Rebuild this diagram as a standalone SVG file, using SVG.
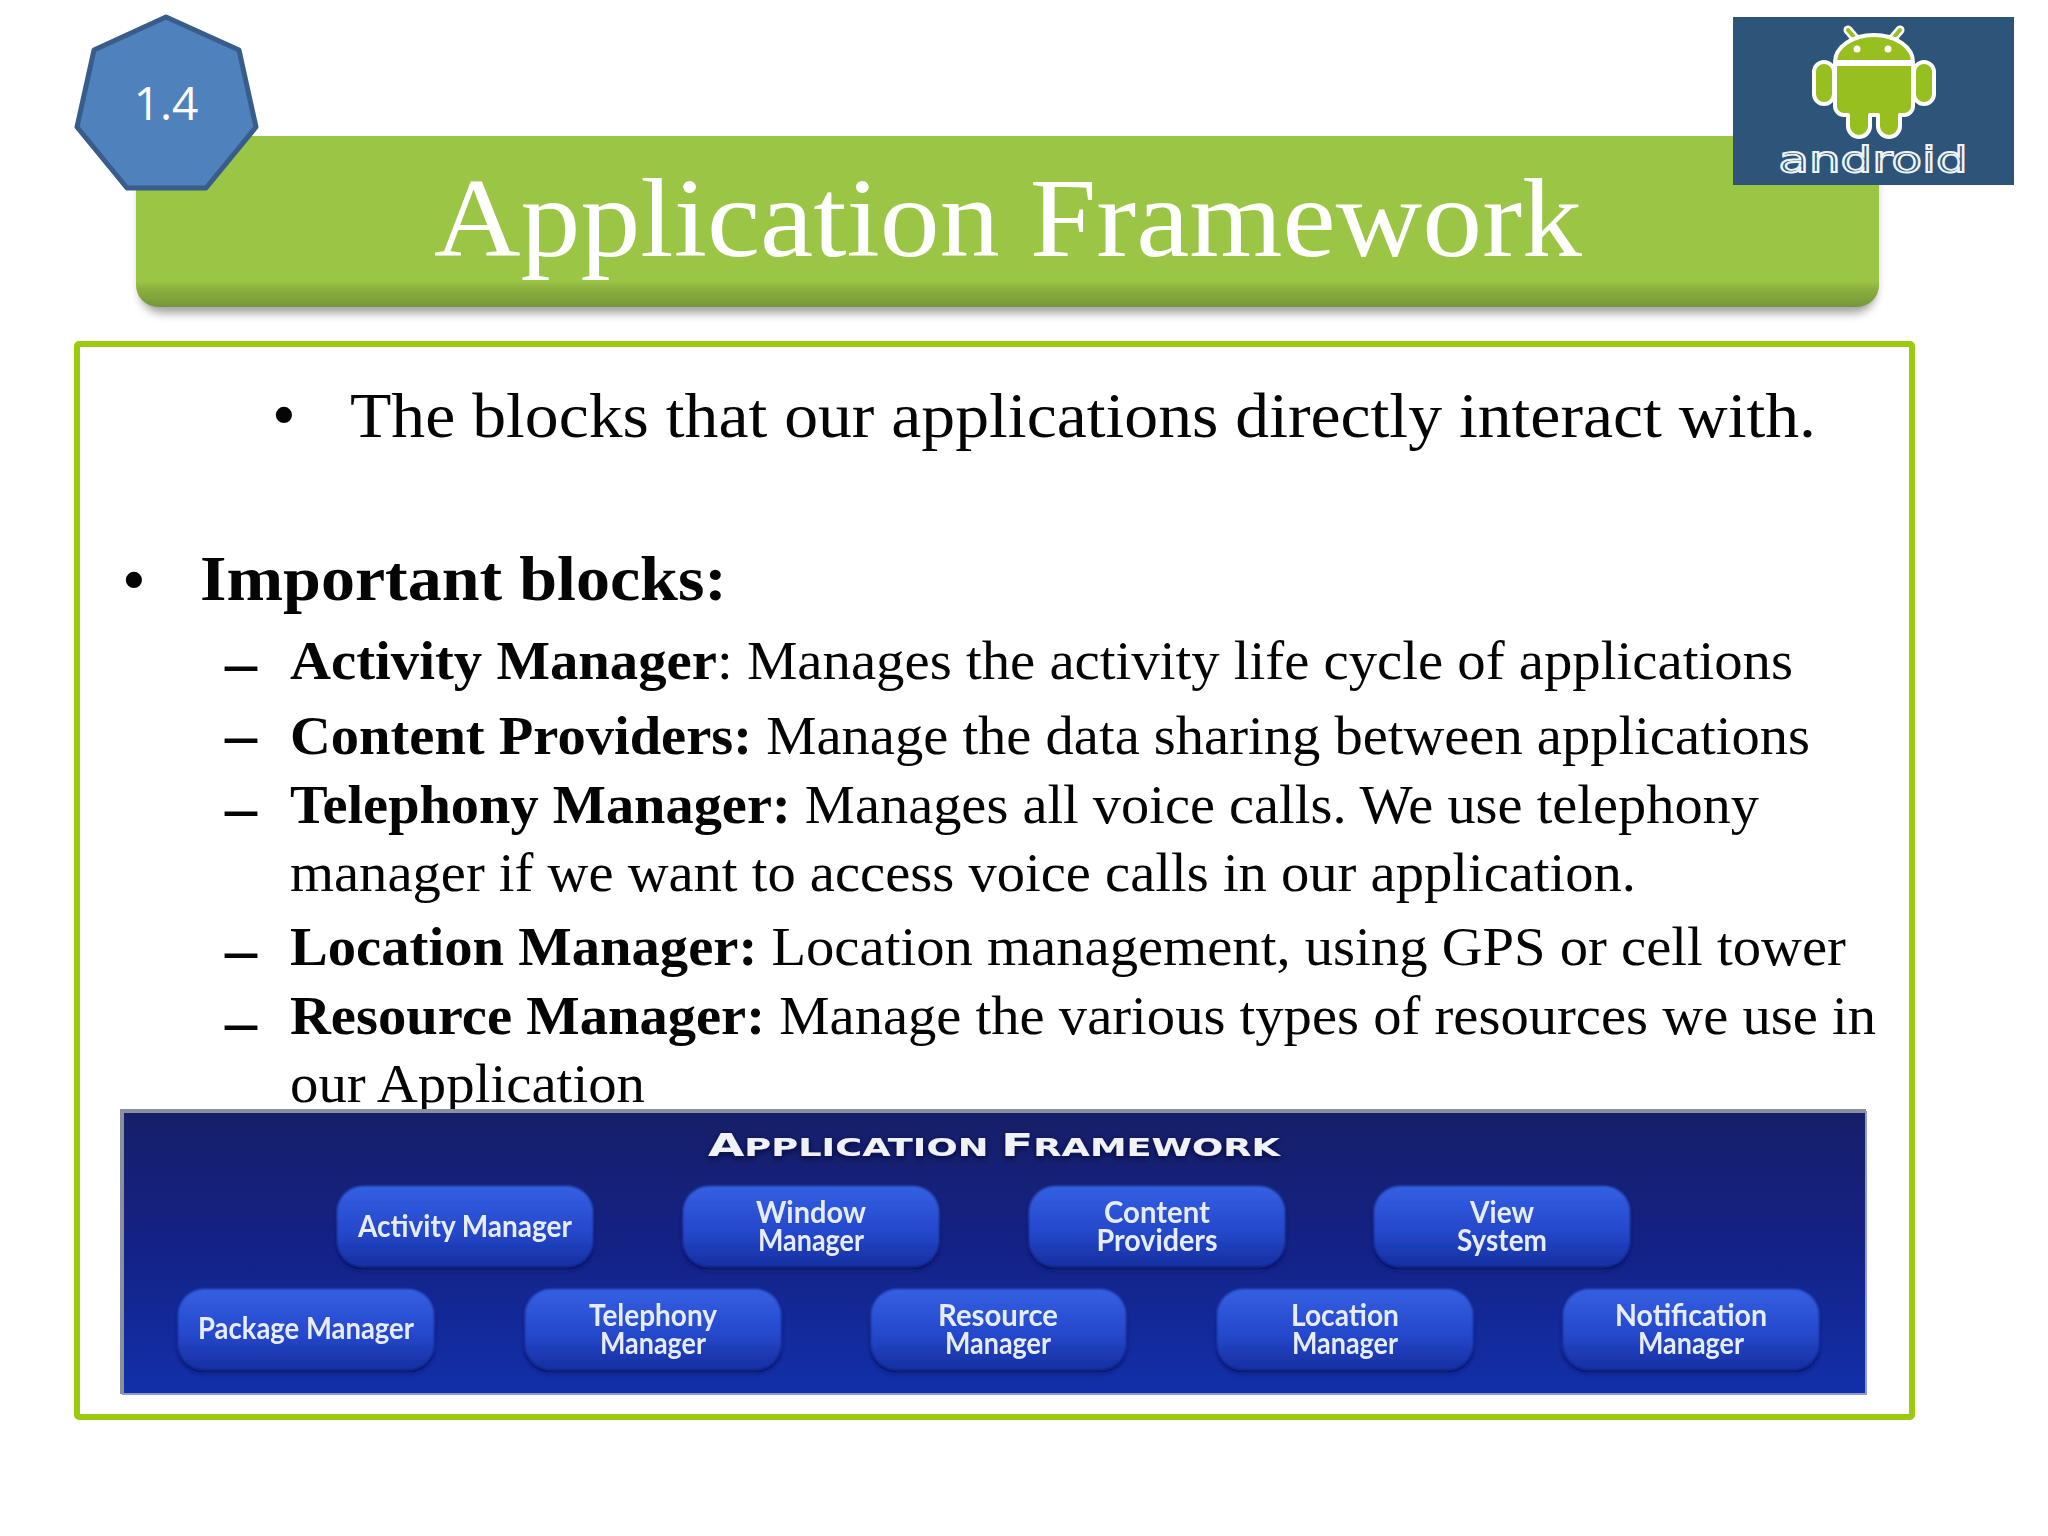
<svg xmlns="http://www.w3.org/2000/svg" width="2048" height="1536" viewBox="0 0 2048 1536">
<style>
.s{font-family:"Liberation Serif","Times New Roman",serif;fill:#050505}
.l{font-size:54.5px}
.b{font-weight:700}
.d{font-size:64px;font-weight:700}
.n{font-family:Lato,"Open Sans",sans-serif;font-size:29.5px;font-weight:700;fill:#e6ecfa;text-anchor:middle;filter:url(#soft)}
.box{fill:url(#nodeFill);filter:url(#boxf)}
</style>
<defs>
<linearGradient id="bar" x1="0" y1="0" x2="0" y2="1"><stop offset="0" stop-color="#9bc645"/><stop offset=".85" stop-color="#9bc645"/><stop offset=".89" stop-color="#8db13f"/><stop offset="1" stop-color="#759738"/></linearGradient>
<linearGradient id="panel" x1="0" y1="0" x2="0" y2="1"><stop offset="0" stop-color="#161f68"/><stop offset=".5" stop-color="#142287"/><stop offset="1" stop-color="#1230aa"/></linearGradient>
<linearGradient id="nodeFill" x1="0" y1="0" x2="0" y2="1"><stop offset="0" stop-color="#3560e2"/><stop offset=".55" stop-color="#2549cc"/><stop offset="1" stop-color="#152fa0"/></linearGradient>
<filter id="soft" x="-5%" y="-15%" width="110%" height="130%"><feGaussianBlur stdDeviation="0.7"/></filter>
<filter id="boxf" x="-5%" y="-10%" width="110%" height="125%"><feGaussianBlur stdDeviation="1"/><feDropShadow dx="0" dy="3" stdDeviation="2" flood-color="#0c1658" flood-opacity=".8"/></filter>
<filter id="halo" x="-5%" y="-30%" width="110%" height="160%"><feGaussianBlur stdDeviation="0.7"/><feDropShadow dx="0" dy="2" stdDeviation="3" flood-color="#060a30" flood-opacity=".9"/></filter>
<filter id="sh" x="-2%" y="-10%" width="104%" height="125%"><feGaussianBlur stdDeviation="5"/></filter>
</defs>
<rect width="2048" height="1536" fill="#fff"/>

<g id="title-bar">
<rect x="140" y="146" width="1736" height="167" rx="22" fill="#777" opacity=".7" filter="url(#sh)"/>
<rect x="136" y="136" width="1743" height="171" rx="22" fill="url(#bar)"/>
<text x="1008" y="256" text-anchor="middle" textLength="1148" lengthAdjust="spacingAndGlyphs" font-family="'Liberation Serif',serif" font-size="112" fill="#fff">Application Framework</text>
</g>

<g id="badge">
<polygon points="166,17 239,50 256,127 206,188 127,188 77,127 94,50" fill="#4f81bd" stroke="#385d8a" stroke-width="5" stroke-linejoin="round"/>
<text x="166" y="120" text-anchor="middle" font-family="'Open Sans','Noto Sans',sans-serif" font-size="46" fill="#fff">1.4</text>
</g>

<g id="android-logo">
<rect x="1733" y="17" width="281" height="168" fill="#2d5479"/>
<path d="M1848 30l12 14M1900 30l-12 14" stroke="#fff" stroke-width="9" stroke-linecap="round"/>
<path d="M1848 30l12 14M1900 30l-12 14" stroke="#97bf1f" stroke-width="4" stroke-linecap="round"/>
<g stroke="#fff" stroke-width="4" fill="#97bf1f" stroke-linejoin="round">
<path d="M1835 62a39 27 0 0 1 78 0z"/>
<path d="M1835 64h78v42a9 9 0 0 1-9 9h-4v11a11 11 0 0 1-22 0v-11h-8v11a11 11 0 0 1-22 0v-11h-4a9 9 0 0 1-9-9z"/>
<rect x="1814" y="62" width="20" height="42" rx="10"/>
<rect x="1914" y="62" width="20" height="42" rx="10"/>
</g>
<circle cx="1857" cy="49" r="3.5" fill="#fff"/><circle cx="1888" cy="49" r="3.5" fill="#fff"/>
<text x="1873" y="172" text-anchor="middle" textLength="189" lengthAdjust="spacingAndGlyphs" font-family="'DejaVu Sans',sans-serif" font-size="36" fill="none" stroke="#eef3f5" stroke-width="1.8">android</text>
</g>

<g id="content-frame"><rect x="77" y="344" width="1835" height="1073" rx="2" fill="#fff" stroke="#9bcb0c" stroke-width="6"/></g>

<g id="content-text">
<text class="s" x="272" y="437" font-size="68">•</text>
<text class="s" x="350" y="437" font-size="64" textLength="1466" lengthAdjust="spacingAndGlyphs">The blocks that our applications directly interact with.</text>
<text class="s" x="122" y="602" font-size="68">•</text>
<text class="s b" x="200" y="600" font-size="64" textLength="527" lengthAdjust="spacingAndGlyphs">Important blocks:</text>
<text class="s d" x="225" y="684">–</text>
<text class="s l" x="290" y="679" textLength="1503" lengthAdjust="spacingAndGlyphs"><tspan class="b">Activity Manager</tspan>: Manages the activity life cycle of applications</text>
<text class="s d" x="225" y="756">–</text>
<text class="s l" x="290" y="754" textLength="1520" lengthAdjust="spacingAndGlyphs"><tspan class="b">Content Providers:</tspan> Manage the data sharing between applications</text>
<text class="s d" x="225" y="829">–</text>
<text class="s l" x="290" y="823" textLength="1469" lengthAdjust="spacingAndGlyphs"><tspan class="b">Telephony Manager:</tspan> Manages all voice calls. We use telephony</text>
<text class="s l" x="290" y="891" textLength="1346" lengthAdjust="spacingAndGlyphs">manager if we want to access voice calls in our application.</text>
<text class="s d" x="225" y="971">–</text>
<text class="s l" x="290" y="965" textLength="1556" lengthAdjust="spacingAndGlyphs"><tspan class="b">Location Manager:</tspan> Location management, using GPS or cell tower</text>
<text class="s d" x="225" y="1043">–</text>
<text class="s l" x="290" y="1034" textLength="1586" lengthAdjust="spacingAndGlyphs"><tspan class="b">Resource Manager:</tspan> Manage the various types of resources we use in</text>
<text class="s l" x="290" y="1102" textLength="355" lengthAdjust="spacingAndGlyphs">our Application</text>
</g>

<g id="framework-panel">
<rect x="122" y="1111" width="1744" height="283" fill="url(#panel)"/>
<path d="M122 1394V1111H1866" fill="none" stroke="#8a8f9e" stroke-width="4"/>
<path d="M122 1394H1866V1111" fill="none" stroke="#8d9bd0" stroke-width="2"/>
<text x="994" y="1156" text-anchor="middle" textLength="572" lengthAdjust="spacingAndGlyphs" font-family="'DejaVu Sans',sans-serif" font-weight="700" font-size="25" fill="#f0f2f8" filter="url(#halo)"><tspan font-size="32">A</tspan>PPLICATION  <tspan font-size="32">F</tspan>RAMEWORK</text>
</g>

<g id="activity-manager"><rect class="box" x="337" y="1186" width="256" height="81" rx="26"/><text class="n" x="465" y="1237" textLength="214" lengthAdjust="spacingAndGlyphs">Activity Manager</text></g>
<g id="window-manager"><rect class="box" x="683" y="1186" width="256" height="81" rx="26"/><text class="n" x="811" y="1223" textLength="110" lengthAdjust="spacingAndGlyphs">Window</text><text class="n" x="811" y="1251" textLength="106" lengthAdjust="spacingAndGlyphs">Manager</text></g>
<g id="content-providers"><rect class="box" x="1029" y="1186" width="256" height="81" rx="26"/><text class="n" x="1157" y="1223" textLength="106" lengthAdjust="spacingAndGlyphs">Content</text><text class="n" x="1157" y="1251" textLength="121" lengthAdjust="spacingAndGlyphs">Providers</text></g>
<g id="view-system"><rect class="box" x="1374" y="1186" width="256" height="81" rx="26"/><text class="n" x="1502" y="1223" textLength="64" lengthAdjust="spacingAndGlyphs">View</text><text class="n" x="1502" y="1251" textLength="90" lengthAdjust="spacingAndGlyphs">System</text></g>
<g id="package-manager"><rect class="box" x="178" y="1289" width="256" height="81" rx="26"/><text class="n" x="306" y="1339" textLength="216" lengthAdjust="spacingAndGlyphs">Package Manager</text></g>
<g id="telephony-manager"><rect class="box" x="525" y="1289" width="256" height="81" rx="26"/><text class="n" x="653" y="1326" textLength="128" lengthAdjust="spacingAndGlyphs">Telephony</text><text class="n" x="653" y="1354" textLength="106" lengthAdjust="spacingAndGlyphs">Manager</text></g>
<g id="resource-manager"><rect class="box" x="871" y="1289" width="255" height="81" rx="26"/><text class="n" x="998" y="1326" textLength="120" lengthAdjust="spacingAndGlyphs">Resource</text><text class="n" x="998" y="1354" textLength="106" lengthAdjust="spacingAndGlyphs">Manager</text></g>
<g id="location-manager"><rect class="box" x="1217" y="1289" width="256" height="81" rx="26"/><text class="n" x="1345" y="1326" textLength="108" lengthAdjust="spacingAndGlyphs">Location</text><text class="n" x="1345" y="1354" textLength="106" lengthAdjust="spacingAndGlyphs">Manager</text></g>
<g id="notification-manager"><rect class="box" x="1563" y="1289" width="256" height="81" rx="26"/><text class="n" x="1691" y="1326" textLength="152" lengthAdjust="spacingAndGlyphs">Notification</text><text class="n" x="1691" y="1354" textLength="106" lengthAdjust="spacingAndGlyphs">Manager</text></g>
</svg>
